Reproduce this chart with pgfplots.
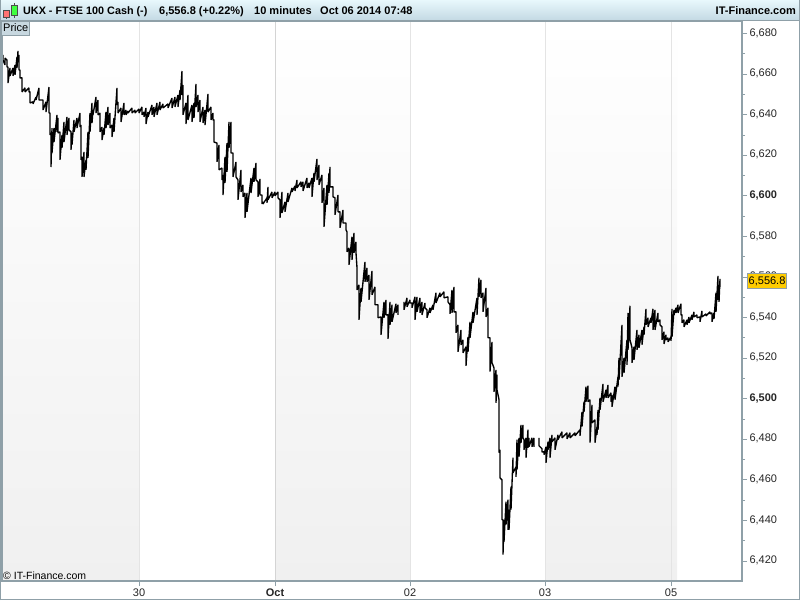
\documentclass[border=0pt]{standalone}
\usepackage{fontspec}
\setmainfont{Liberation Sans}
\usepackage{pgfplots}
\pgfplotsset{compat=1.18}
\definecolor{spine}{HTML}{8FA0A8}
\definecolor{bandb}{HTML}{F0F0F0}
\definecolor{gridc}{HTML}{E4E4E4}
\definecolor{gridd}{HTML}{D4D4D4}
\definecolor{headt}{HTML}{E8F8FC}
\definecolor{headb}{HTML}{C4DAE4}
\definecolor{pricebox}{HTML}{C8D8E0}
\definecolor{yell}{HTML}{FFCC00}
\newcommand{\fs}{\fontsize{11}{13}\selectfont}
\begin{document}
\begin{tikzpicture}[x=1pt,y=1pt]
\useasboundingbox (0,0) rectangle (800,600);
\fill[white] (0,0) rectangle (800,600);
\begin{axis}[
  at={(2pt,19pt)}, anchor=south west,
  scale only axis, width=740pt, height=560pt,
  xmin=2, xmax=742, ymin=6410.14, ymax=6686.16,
  axis on top,
  axis line style={spine, line width=1.2pt},
  tick style={spine, line width=0.8pt},
  tick align=outside,
  major tick length=5pt, minor tick length=3pt,
  xtick pos=bottom, ytick pos=right, yticklabel pos=right,
  xtick={139,275,410,545,671},
  xticklabels={30,\textbf{Oct},02,03,05},
  ytick={6420,6440,6460,6480,6500,6520,6540,6560,6580,6600,6620,6640,6660,6680},
  yticklabels={{6,420},{6,440},{6,460},{6,480},\textbf{6,500},{6,520},{6,540},{6,560},{6,580},\textbf{6,600},{6,620},{6,640},{6,660},{6,680}},
  minor ytick={6410,6430,6450,6470,6490,6510,6530,6550,6570,6590,6610,6630,6650,6670},
  ticklabel style={font=\fs, text=black!85},
  yticklabel style={xshift=-1pt, yshift=0.5pt},
  xticklabel style={yshift=1pt},
  clip=true,
]
\fill[top color=white, bottom color=bandb] (axis cs:2,6410.14) rectangle (axis cs:139,6686.16);
\fill[top color=white, bottom color=bandb] (axis cs:275,6410.14) rectangle (axis cs:410,6686.16);
\fill[top color=white, bottom color=bandb] (axis cs:545,6410.14) rectangle (axis cs:677,6686.16);
\draw[gridc, line width=1pt] (axis cs:139,6410.14) -- (axis cs:139,6686.16);
\draw[gridd, line width=1pt] (axis cs:275,6410.14) -- (axis cs:275,6686.16);
\draw[gridc, line width=1pt] (axis cs:410,6410.14) -- (axis cs:410,6686.16);
\draw[gridc, line width=1pt] (axis cs:545,6410.14) -- (axis cs:545,6686.16);
\draw[gridc, line width=1pt] (axis cs:671,6410.14) -- (axis cs:671,6686.16);
\addplot[black, line width=1.35pt, line join=bevel] coordinates {
(3,6669.4)(3,6666.9)(5,6664.5)(5,6667.9)(7,6666.9)(7,6663.5)(8,6663.5)(8,6655.6)
(10,6663.0)(10,6659.1)(13,6663.0)(13,6659.1)(15,6664.5)(15,6659.6)(17,6668.4)(17,6663.0)
(18,6671.4)(18,6668.4)(19,6669.4)(19,6662.0)(20,6662.0)(20,6658.1)(22,6658.1)(22,6651.2)
(25,6653.2)(25,6651.2)(29,6653.2)(29,6651.2)(30,6651.2)(30,6645.8)(33,6646.3)(33,6645.3)
(36,6648.7)(36,6647.2)(39,6653.2)(39,6647.2)(43,6647.2)(43,6642.3)(46,6646.3)(46,6641.3)
(49,6653.6)(49,6640.8)(50,6640.8)(50,6630.0)(51,6631.0)(51,6614.2)(52,6633.4)(52,6621.1)
(54,6633.4)(54,6626.5)(57,6639.9)(57,6631.5)(58,6638.4)(58,6631.0)(60,6631.5)(60,6617.7)
(62,6630.0)(62,6623.6)(64,6636.4)(64,6626.5)(67,6638.9)(67,6630.0)(69,6638.4)(69,6632.5)
(71,6631.5)(71,6622.6)(72,6631.0)(72,6625.1)(74,6637.4)(74,6631.5)(77,6638.4)(77,6633.4)
(80,6640.8)(80,6633.9)(81,6634.9)(81,6617.7)(82,6619.2)(82,6609.3)(84,6621.6)(84,6609.3)
(86,6617.7)(86,6612.8)(88,6631.5)(88,6618.7)(90,6640.8)(90,6631.5)(92,6645.8)(92,6635.9)
(93,6642.3)(93,6639.9)(96,6648.7)(96,6640.8)(98,6647.2)(98,6639.9)(100,6640.8)(100,6631.5)
(102,6633.9)(102,6627.5)(104,6633.4)(104,6630.0)(106,6641.3)(106,6633.4)(108,6643.8)(108,6634.9)
(110,6640.8)(110,6633.4)(112,6634.9)(112,6629.0)(114,6638.4)(114,6631.5)(117,6653.2)(117,6644.8)
(118,6646.3)(118,6640.8)(121,6643.3)(121,6636.4)(124,6645.8)(124,6639.9)(126,6642.3)(126,6639.9)
(128,6641.8)(128,6640.8)(132,6643.3)(132,6640.8)(135,6642.3)(135,6640.8)(139,6642.8)(139,6640.8)
(142,6643.8)(142,6639.9)(144,6641.3)(144,6638.9)(146,6643.3)(146,6635.4)(148,6641.3)(148,6638.9)
(152,6644.8)(152,6639.9)(154,6643.8)(154,6638.9)(157,6645.8)(157,6639.9)(160,6646.3)(160,6642.3)
(163,6645.3)(163,6643.3)(168,6645.3)(168,6643.3)(172,6648.2)(172,6643.3)(175,6648.7)(175,6643.8)
(178,6649.7)(178,6643.8)(180,6652.2)(180,6647.2)(182,6661.5)(182,6649.7)(183,6654.6)(183,6639.9)
(186,6645.8)(186,6635.4)(188,6649.7)(188,6637.4)(192,6644.8)(192,6636.4)(194,6645.8)(194,6638.4)
(196,6655.1)(196,6643.8)(198,6649.7)(198,6641.3)(200,6647.2)(200,6636.4)(203,6643.8)(203,6635.9)
(205,6642.3)(205,6634.9)(208,6650.2)(208,6641.3)(211,6643.8)(211,6637.4)(213,6640.8)(213,6637.4)
(214,6637.4)(214,6626.5)(217,6626.0)(217,6616.7)(219,6625.1)(219,6612.8)(222,6613.7)(222,6607.8)
(223,6610.3)(223,6600.4)(225,6619.2)(225,6606.4)(227,6626.0)(227,6611.8)(229,6636.4)(229,6623.6)
(231,6636.4)(231,6621.1)(233,6621.1)(233,6609.3)(236,6616.7)(236,6609.3)(238,6607.8)(238,6598.0)
(241,6612.8)(241,6601.9)(243,6605.4)(243,6599.5)(245,6601.4)(245,6589.1)(247,6601.4)(247,6592.1)
(251,6608.8)(251,6601.4)(254,6613.7)(254,6606.9)(256,6616.2)(256,6607.8)(258,6606.9)(258,6599.5)
(260,6608.3)(260,6600.4)(262,6600.4)(262,6596.0)(263,6597.0)(263,6596.0)(267,6599.0)(267,6596.5)
(268,6604.4)(268,6598.0)(272,6601.9)(272,6599.0)(275,6601.9)(275,6600.0)(278,6601.9)(278,6599.0)
(280,6598.0)(280,6589.1)(282,6601.9)(282,6591.6)(285,6597.0)(285,6592.1)(288,6601.4)(288,6597.0)
(292,6603.9)(292,6601.9)(295,6604.9)(295,6602.4)(297,6607.8)(297,6603.9)(301,6606.9)(301,6604.4)
(303,6606.9)(303,6602.4)(307,6608.8)(307,6603.9)(309,6606.4)(309,6603.9)(312,6608.8)(312,6599.5)
(314,6611.3)(314,6606.9)(317,6618.2)(317,6607.8)(319,6615.2)(319,6605.4)(322,6610.3)(322,6596.5)
(324,6603.9)(324,6584.7)(327,6605.4)(327,6595.5)(329,6611.3)(329,6601.4)(330,6614.2)(330,6604.4)
(333,6604.4)(333,6599.5)(335,6599.0)(335,6590.6)(338,6600.4)(338,6592.1)(340,6592.1)(340,6584.2)
(343,6593.0)(343,6586.6)(346,6586.6)(346,6583.2)(347,6582.2)(347,6572.4)(349,6574.3)(349,6566.0)
(352,6579.8)(352,6568.4)(354,6581.7)(354,6571.9)(356,6577.3)(356,6571.9)(357,6564.5)(357,6553.6)
(359,6556.1)(359,6538.9)(361,6554.6)(361,6547.7)(365,6567.4)(365,6557.6)(367,6564.5)(367,6557.6)
(369,6561.0)(369,6548.7)(372,6563.0)(372,6551.2)(375,6555.1)(375,6546.3)(378,6546.3)(378,6539.9)
(381,6540.3)(381,6531.5)(384,6547.7)(384,6539.9)(386,6548.7)(386,6541.3)(388,6541.3)(388,6529.5)
(390,6547.7)(390,6536.4)(392,6546.3)(392,6537.9)(396,6546.8)(396,6542.3)(398,6546.3)(398,6541.3)
};
\addplot[black, line width=1.35pt, line join=bevel] coordinates {
(404,6547.7)(404,6543.8)(407,6549.7)(407,6545.3)(410,6548.7)(410,6547.2)(412,6547.2)(412,6544.8)
(415,6550.2)(415,6538.9)(417,6550.2)(417,6542.8)(420,6549.7)(420,6542.3)(422,6547.7)(422,6541.3)
(425,6547.2)(425,6544.8)(427,6543.8)(427,6539.9)(430,6544.8)(430,6542.3)(433,6546.3)(433,6543.8)
(436,6552.2)(436,6547.2)(440,6552.2)(440,6550.2)(444,6552.7)(444,6549.7)(448,6550.2)(448,6547.7)
(450,6546.3)(450,6541.8)(452,6553.6)(452,6542.3)(454,6555.1)(454,6542.8)(456,6542.8)(456,6532.5)
(458,6536.4)(458,6523.1)(461,6533.9)(461,6526.5)(463,6529.0)(463,6522.6)(466,6525.6)(466,6516.2)
(468,6530.5)(468,6523.1)(470,6537.9)(470,6530.0)(473,6542.8)(473,6537.4)(477,6549.7)(477,6541.3)
(479,6559.6)(479,6550.2)(481,6558.6)(481,6549.7)(483,6552.2)(483,6542.8)(486,6554.6)(486,6540.3)
(488,6544.8)(488,6530.0)(490,6530.0)(490,6513.3)(492,6528.0)(492,6517.7)(494,6515.2)(494,6503.4)
(496,6514.2)(496,6498.0)(497,6511.8)(497,6504.4)(499,6499.5)(499,6473.4)(500,6474.8)(500,6461.0)
(502,6460.0)(502,6440.3)(503,6440.3)(503,6423.1)(504,6440.3)(504,6429.5)(506,6449.2)(506,6437.9)
(508,6450.2)(508,6435.4)(509,6445.3)(509,6435.4)(511,6456.6)(511,6445.3)(513,6470.9)(513,6463.5)
(516,6466.4)(516,6461.5)(517,6479.8)(517,6465.0)(519,6480.7)(519,6471.4)(521,6487.1)(521,6478.3)
(523,6487.1)(523,6480.7)(524,6479.8)(524,6474.8)(526,6480.7)(526,6470.9)(528,6484.7)(528,6475.8)
(529,6480.7)(529,6476.3)(532,6480.7)(532,6476.3)(534,6480.7)(534,6476.3)
};
\addplot[black, line width=1.35pt, line join=bevel] coordinates {
(539,6480.7)(539,6476.8)(542,6475.3)(542,6473.8)(544,6473.8)(544,6472.4)(546,6476.3)(546,6468.4)
(548,6478.8)(548,6474.8)(550,6480.7)(550,6470.9)(552,6482.2)(552,6478.8)(555,6480.7)(555,6474.8)
(558,6482.2)(558,6479.8)(562,6483.7)(562,6480.7)(567,6483.2)(567,6480.2)(570,6483.2)(570,6480.7)
(575,6483.2)(575,6481.7)(580,6484.7)(580,6481.7)(582,6493.5)(582,6486.2)(584,6498.5)(584,6493.5)
(586,6505.9)(586,6498.5)(588,6506.4)(588,6498.5)(590,6499.5)(590,6478.3)(592,6497.0)(592,6488.1)
(595,6489.6)(595,6478.3)(597,6486.2)(597,6482.2)(598,6494.5)(598,6484.7)(600,6500.4)(600,6494.5)
(603,6507.3)(603,6498.5)(606,6504.4)(606,6500.4)(608,6506.8)(608,6500.4)(611,6502.9)(611,6498.5)
(612,6501.9)(612,6496.0)(615,6505.9)(615,6499.5)(618,6510.8)(618,6505.9)(619,6520.1)(619,6509.3)
(622,6536.4)(622,6510.8)(624,6520.1)(624,6512.8)(627,6529.0)(627,6516.7)(628,6542.3)(628,6524.1)
(630,6545.8)(630,6529.0)(632,6525.1)(632,6517.7)(634,6525.6)(634,6519.2)(637,6533.9)(637,6524.1)
(639,6531.5)(639,6525.1)(642,6533.9)(642,6526.6)(644,6535.4)(644,6531.5)(646,6544.3)(646,6536.4)
(648,6539.9)(648,6535.4)(651,6539.9)(651,6537.4)(653,6544.3)(653,6533.9)(655,6543.8)(655,6533.9)
(658,6542.3)(658,6537.9)(660,6538.9)(660,6536.4)(662,6535.4)(662,6529.0)(664,6533.0)(664,6527.0)
(666,6531.5)(666,6529.0)(668,6530.0)(668,6528.0)(671,6530.5)(671,6528.5)(672,6544.3)(672,6530.5)
(674,6543.8)(674,6541.3)(676,6544.8)(676,6542.3)(678,6546.3)(678,6542.3)(681,6546.8)(681,6541.3)
(682,6541.3)(682,6537.4)(684,6538.9)(684,6535.4)(687,6538.9)(687,6536.4)(689,6540.3)(689,6537.4)
(692,6541.3)(692,6538.9)(694,6542.8)(694,6540.3)(697,6541.3)(697,6539.9)(700,6540.3)(700,6537.9)
(702,6543.3)(702,6540.3)(706,6541.8)(706,6540.8)(710,6542.8)(710,6541.8)(712,6542.3)(712,6537.9)
(714,6542.3)(714,6539.4)(716,6552.2)(716,6542.8)(718,6560.5)(718,6548.7)(719,6556.1)(719,6547.7)
(720,6559.1)(720,6555.1)
};
\end{axis}
% header
\shade[top color=headt, bottom color=headb] (0,580) rectangle (800,600);
\draw[spine, line width=1pt] (0,579.5) -- (800,579.5);
\draw[spine, line width=1pt] (0.5,0) -- (0.5,600);
\draw[spine, line width=1pt] (0,0.5) -- (800,0.5);
\draw[spine, line width=1pt] (799.5,0) -- (799.5,600);
\draw[black!70] (6.5,581) -- (6.5,590);
\draw[black!70] (14.5,582) -- (14.5,597);
\fill[red!55!white,draw=black!70] (3.5,583) rectangle (9.5,589.5);
\fill[green!75!white,draw=black!70] (11,585) rectangle (17.5,595);
\node[anchor=base west, inner sep=0pt, font=\fontsize{10.8}{13}\selectfont\bfseries, black] at (23,585.5) {UKX - FTSE 100 Cash (-)};
\node[anchor=base west, inner sep=0pt, font=\fs\bfseries, black] at (159,585.5) {6,556.8 (+0.22\%)};
\node[anchor=base west, inner sep=0pt, font=\fs\bfseries, black] at (254,585.5) {10 minutes};
\node[anchor=base west, inner sep=0pt, font=\fs\bfseries, black] at (320,585.5) {Oct 06 2014 07:48};
\node[anchor=base east, inner sep=0pt, font=\fs\bfseries, black] at (796,585.5) {IT-Finance.com};
% price tab
\fill[pricebox, draw=spine] (1,565) rectangle (29.5,579);
\node[anchor=base west, inner sep=0pt, font=\fs, black] at (3,568) {Price};
% copyright
\node[anchor=base west, inner sep=0pt, font=\fontsize{10.5}{13}\selectfont, black] at (3,21) {\textcopyright{} IT-Finance.com};
% last price
\fill[yell, draw=spine] (747,312) rectangle (786,327);
\node[anchor=base west, inner sep=0pt, font=\fs, black] at (748.5,315.5) {6,556.8};
\end{tikzpicture}
\end{document}
